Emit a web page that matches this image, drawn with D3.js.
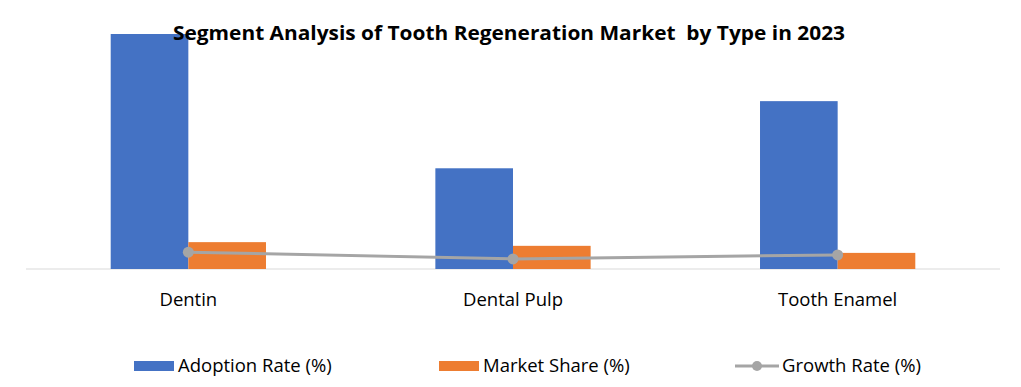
<!DOCTYPE html>
<html>
<head>
<meta charset="utf-8">
<script src="https://cdn.jsdelivr.net/npm/d3@7"></script>
<style>
  body { margin: 0; background: #fff; }
  text { font-family: "Open Sans", sans-serif; fill: #000; }
</style>
</head>
<body>
<svg id="chart" width="1021" height="387"></svg>
<script>
const categories = ["Dentin", "Dental Pulp", "Tooth Enamel"];
const adoptionRate = [70, 30, 50];
const marketShare = [8, 6.9, 4.8];
const growthRate = [5, 3, 4.2];
const seriesNames = ["Adoption Rate (%)", "Market Share (%)", "Growth Rate (%)"];

const svg = d3.select("#chart"),
    margin = { top: 34, right: 21, bottom: 118, left: 26 },
    width = +svg.attr("width") - margin.left - margin.right,
    height = +svg.attr("height") - margin.top - margin.bottom;

const colors = { adoption: "#4472C4", share: "#ED7D31", growth: "#A5A5A5" };

const g = svg.append("g").attr("transform", `translate(${margin.left},${margin.top})`);

const x = d3.scaleBand().domain(categories).range([0, width]).paddingInner(0.5217).paddingOuter(0.2609);
const x1 = d3.scaleBand().domain(["adoption", "share"]).range([0, x.bandwidth()]);
const y = d3.scaleLinear().domain([0, 70]).range([height, 0]);

const rows = categories.map((c, i) => ({
    cat: c, adoption: adoptionRate[i], share: marketShare[i], growth: growthRate[i]
}));

// baseline
g.append("line")
    .attr("x1", 0).attr("x2", width)
    .attr("y1", y(0)).attr("y2", y(0))
    .attr("stroke", "#D9D9D9").attr("stroke-width", 1);

// bars
["adoption", "share"].forEach(key => {
    g.selectAll("rect." + key)
        .data(rows)
        .enter().append("rect")
        .attr("class", key)
        .attr("x", d => x(d.cat) + x1(key))
        .attr("y", d => y(d[key]))
        .attr("width", x1.bandwidth())
        .attr("height", d => y(0) - y(d[key]))
        .attr("fill", colors[key]);
});

// growth line
const line = d3.line()
    .x(d => x(d.cat) + x.bandwidth() / 2)
    .y(d => y(d.growth));

g.append("path")
    .datum(rows)
    .attr("d", line)
    .attr("fill", "none")
    .attr("stroke", colors.growth)
    .attr("stroke-width", 3);

g.selectAll("circle.growth")
    .data(rows)
    .enter().append("circle")
    .attr("class", "growth")
    .attr("cx", d => x(d.cat) + x.bandwidth() / 2)
    .attr("cy", d => y(d.growth))
    .attr("r", 5.5)
    .attr("fill", colors.growth);

// category labels
g.selectAll("text.cat")
    .data(categories)
    .enter().append("text")
    .attr("class", "cat")
    .attr("x", d => x(d) + x.bandwidth() / 2)
    .attr("y", height + 37)
    .attr("text-anchor", "middle")
    .style("font-size", "18.5px")
    .text(d => d);

// title
svg.append("text")
    .attr("x", 509)
    .attr("y", 40)
    .attr("text-anchor", "middle")
    .attr("textLength", 672)
    .attr("lengthAdjust", "spacingAndGlyphs")
    .style("font-size", "20px")
    .style("font-weight", "bold")
    .style("white-space", "pre")
    .text("Segment Analysis of Tooth Regeneration Market  by Type in 2023");

// legend
const legend = svg.append("g");
const legY = 366;
const items = [
    { name: seriesNames[0], key: "adoption", x: 134 },
    { name: seriesNames[1], key: "share", x: 439 },
    { name: seriesNames[2], key: "growth", x: 735 }
];
items.forEach(it => {
    if (it.key === "growth") {
        legend.append("line")
            .attr("x1", it.x).attr("x2", it.x + 44)
            .attr("y1", legY).attr("y2", legY)
            .attr("stroke", colors.growth).attr("stroke-width", 3);
        legend.append("circle")
            .attr("cx", it.x + 22).attr("cy", legY).attr("r", 5)
            .attr("fill", colors.growth);
    } else {
        legend.append("rect")
            .attr("x", it.x).attr("y", legY - 5)
            .attr("width", 40).attr("height", 10)
            .attr("fill", colors[it.key]);
    }
    legend.append("text")
        .attr("x", it.x + (it.key === "growth" ? 47 : 44))
        .attr("y", 372)
        .style("font-size", "18.5px")
        .text(it.name);
});
</script>
</body>
</html>
